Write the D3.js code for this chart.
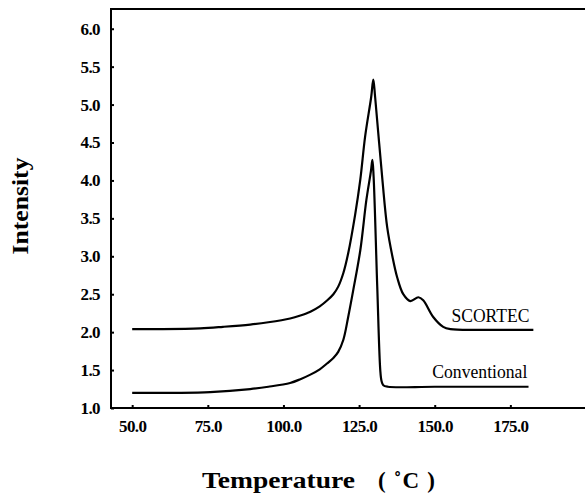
<!DOCTYPE html>
<html>
<head>
<meta charset="utf-8">
<script src="https://cdn.jsdelivr.net/npm/d3@7/dist/d3.min.js"></script>
<style>
  html, body { margin: 0; padding: 0; background: #fff; }
  svg text { font-family: "Liberation Serif", serif; fill: #000; }
</style>
</head>
<body>
<div id="chart"></div>
<script>
const width = 585, height = 497;
const serif = "Liberation Serif";

// x ticks / y ticks
const xTicks = [50, 75, 100, 125, 150, 175];
const yTicks = [1.0, 1.5, 2.0, 2.5, 3.0, 3.5, 4.0, 4.5, 5.0, 5.5, 6.0];

// SCORTEC curve (temperature, intensity)
const scortecT = [50, 60, 72.5, 80, 89, 95, 102.2, 105.6, 108.9, 112, 114.5, 116.5, 118.1, 119.8, 121.4, 123.7, 125.4, 127.0, 129.0, 129.7,
  130.3, 132.7, 134.3, 136.0, 137.6, 139.6, 141.9, 144.6, 146.2, 149.5, 152.8, 155.2, 165, 182.6];
const scortecI = [2.04, 2.04, 2.05, 2.07, 2.10, 2.13, 2.18, 2.22, 2.27, 2.34, 2.42, 2.50, 2.60, 2.78, 3.04, 3.55, 4.01, 4.58, 5.10, 5.33,
  5.10, 4.01, 3.38, 3.00, 2.72, 2.50, 2.41, 2.46, 2.42, 2.20, 2.07, 2.04, 2.03, 2.03];

// Conventional curve
const convT = [50, 65, 75.8, 89, 95, 102.2, 105.6, 108.9, 112, 114.5, 116.5, 118.1, 119.8, 121.4, 123.1, 125.4, 127.4, 128.9, 129.4,
  129.8, 131.0, 132.0, 132.4, 133.0, 134.5, 150, 181.0];
const convI = [1.20, 1.20, 1.21, 1.25, 1.28, 1.33, 1.38, 1.44, 1.51, 1.59, 1.66, 1.74, 1.90, 2.20, 2.56, 3.08, 3.74, 4.12, 4.27,
  4.05, 2.60, 1.50, 1.36, 1.30, 1.28, 1.28, 1.28];

// curve labels: name, anchor temperature (right end), intensity (baseline)
const labelNames = ["SCORTEC", "Conventional"];
const labelT = [181.3, 180.6];
const labelI = [2.13, 1.40];

const svg = d3.select("#chart").append("svg")
  .attr("width", width)
  .attr("height", height);

const x = d3.scaleLinear().domain([43, 200]).range([111, 586]);
const y = d3.scaleLinear().domain([1, 6.26]).range([408, 9]);

// frame: left, bottom, top
svg.append("line").attr("x1", 111).attr("x2", 111).attr("y1", 8).attr("y2", 409)
  .attr("stroke", "#000").attr("stroke-width", 2);
svg.append("line").attr("x1", 110).attr("x2", 586).attr("y1", 408).attr("y2", 408)
  .attr("stroke", "#000").attr("stroke-width", 2);
svg.append("line").attr("x1", 110).attr("x2", 586).attr("y1", 9).attr("y2", 9)
  .attr("stroke", "#000").attr("stroke-width", 2);

function styleTicks(g) {
  g.select(".domain").remove();
  g.attr("font-family", serif);
  g.selectAll("line").attr("stroke-width", 2);
  g.selectAll("text")
    .style("font-family", serif)
    .style("font-size", "17px").style("font-weight", "bold")
    .attr("letter-spacing", "-0.6px");
}

svg.append("g")
  .attr("transform", "translate(0,408)")
  .call(d3.axisBottom(x).tickValues(xTicks).tickSize(-3).tickPadding(12).tickFormat(d3.format(".1f")))
  .call(styleTicks);

svg.append("g")
  .attr("transform", "translate(111,0)")
  .call(d3.axisLeft(y).tickValues(yTicks).tickSize(-3).tickPadding(11).tickFormat(d3.format(".1f")))
  .call(styleTicks);

const line = d3.line()
  .x(d => x(d[0]))
  .y(d => y(d[1]))
  .curve(d3.curveCatmullRom.alpha(0.5));

[[scortecT, scortecI], [convT, convI]].forEach(([ts, is]) => {
  svg.append("path")
    .datum(ts.map((t, i) => [t, is[i]]))
    .attr("fill", "none")
    .attr("stroke", "#000")
    .attr("stroke-width", 2.2)
    .attr("stroke-linejoin", "round")
    .attr("d", line);
});

labelNames.forEach((name, i) => {
  svg.append("text")
    .attr("x", x(labelT[i]))
    .attr("y", y(labelI[i]))
    .attr("text-anchor", "end")
    .style("font-family", serif)
    .style("font-size", "19px")
    .attr("textLength", i === 0 ? 78 : 95)
    .attr("lengthAdjust", "spacingAndGlyphs")
    .text(name);
});

// axis titles
svg.append("text")
  .attr("transform", "translate(28,206) rotate(-90)")
  .attr("text-anchor", "middle")
  .style("font-family", serif)
  .style("font-size", "23px").style("font-weight", "bold")
  .attr("textLength", 97)
  .attr("lengthAdjust", "spacingAndGlyphs")
  .text("Intensity");

svg.append("text")
  .attr("x", 202).attr("y", 488)
  .style("font-family", serif)
  .style("font-size", "23px").style("font-weight", "bold")
  .attr("textLength", 153)
  .attr("lengthAdjust", "spacingAndGlyphs")
  .text("Temperature");
svg.append("text")
  .attr("x", 378).attr("y", 488)
  .style("font-family", serif)
  .style("font-size", "23px").style("font-weight", "bold")
  .attr("textLength", 57)
  .attr("lengthAdjust", "spacing")
  .text("( ˚C )");
</script>
</body>
</html>
